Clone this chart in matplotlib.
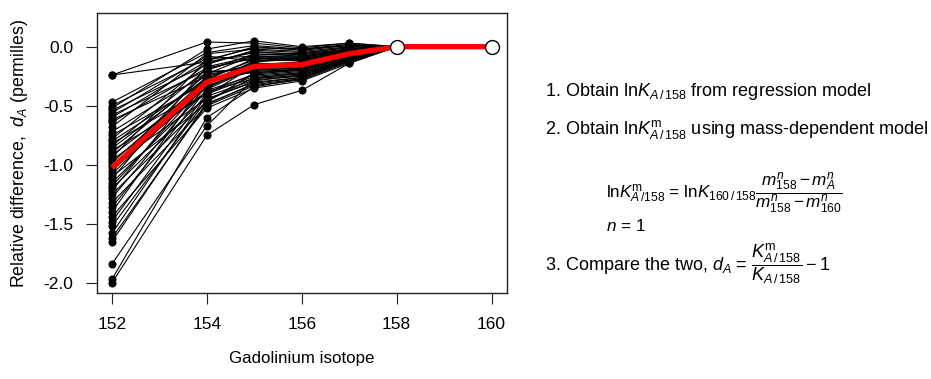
import numpy as np
import matplotlib
matplotlib.use("Agg")
import matplotlib.pyplot as plt

plt.rcParams['font.family'] = ['Liberation Sans', 'DejaVu Sans']
plt.rcParams['mathtext.fontset'] = 'custom'
plt.rcParams['mathtext.rm'] = 'Liberation Sans'
plt.rcParams['mathtext.it'] = 'Liberation Sans:italic'
plt.rcParams['mathtext.bf'] = 'Liberation Sans:bold'

# Isotopes
isotopes = [152, 154, 155, 156, 157, 158]
ref_isotopes = [158, 160]
ref_values = [0.0, 0.0]

# Relative difference d_A (permilles) per sample at each isotope
d152 = [-0.24, -0.24, -0.47, -0.50, -0.52, -0.54, -0.56, -0.58, -0.60, -0.62,
        -0.64, -0.68, -0.72, -0.75, -0.78, -0.80, -0.82, -0.84, -0.86, -0.88,
        -0.90, -0.92, -0.94, -0.96, -0.98, -1.00, -1.02, -1.05, -1.08, -1.10,
        -1.12, -1.15, -1.18, -1.20, -1.22, -1.25, -1.28, -1.32, -1.36, -1.40,
        -1.44, -1.48, -1.52, -1.58, -1.62, -1.65, -1.84, -1.97, -2.00]
d154 = [0.04, -0.13, -0.05, -0.10, -0.02, -0.15, -0.08, -0.20, -0.12, -0.25,
        -0.18, -0.06, -0.22, -0.30, -0.14, -0.28, -0.35, -0.19, -0.26, -0.40,
        -0.23, -0.32, -0.11, -0.38, -0.27, -0.44, -0.21, -0.34, -0.29, -0.48,
        -0.17, -0.37, -0.31, -0.42, -0.24, -0.46, -0.33, -0.50, -0.36, -0.28,
        -0.52, -0.39, -0.45, -0.41, -0.49, -0.47, -0.67, -0.60, -0.75]
d155 = [0.03, -0.05, 0.01, -0.08, 0.05, -0.03, -0.12, -0.06, 0.00, -0.15,
        -0.10, -0.02, -0.18, -0.13, -0.04, -0.20, -0.16, -0.09, -0.22, -0.25,
        -0.07, -0.14, -0.01, -0.27, -0.11, -0.30, -0.19, -0.17, -0.21, -0.32,
        -0.08, -0.24, -0.12, -0.28, -0.15, -0.26, -0.20, -0.33, -0.18, -0.10,
        -0.35, -0.23, -0.29, -0.16, -0.31, -0.22, -0.27, -0.34, -0.49]
d156 = [-0.01, -0.06, -0.02, -0.09, 0.00, -0.05, -0.11, -0.08, -0.03, -0.14,
        -0.12, -0.04, -0.16, -0.10, -0.07, -0.18, -0.13, -0.09, -0.20, -0.22,
        -0.06, -0.15, -0.02, -0.24, -0.12, -0.26, -0.17, -0.14, -0.19, -0.27,
        -0.08, -0.21, -0.11, -0.25, -0.13, -0.23, -0.18, -0.28, -0.16, -0.10,
        -0.29, -0.20, -0.24, -0.15, -0.26, -0.19, -0.22, -0.27, -0.37]
d157 = [0.03, 0.00, 0.02, -0.03, 0.03, -0.01, -0.05, -0.02, 0.01, -0.06,
        -0.04, 0.00, -0.07, -0.04, -0.02, -0.08, -0.06, -0.03, -0.09, -0.10,
        -0.02, -0.06, 0.01, -0.10, -0.05, -0.11, -0.07, -0.05, -0.08, -0.12,
        -0.03, -0.09, -0.04, -0.11, -0.05, -0.10, -0.07, -0.13, -0.06, -0.04,
        -0.14, -0.08, -0.11, -0.06, -0.12, -0.09, -0.10, -0.12, -0.14]
d158 = [0.0] * len(d152)

x_ticks = [152, 154, 156, 158, 160]
y_ticks = [0.0, -0.5, -1.0, -1.5, -2.0]
y_tick_labels = ["0.0", "-0.5", "-1.0", "-1.5", "-2.0"]

data = np.array([d152, d154, d155, d156, d157, d158])  # shape (6, n)

fig = plt.figure(figsize=(9.31, 3.79), dpi=100)
ax = fig.add_axes([0.1039, 0.2261, 0.4404, 0.7404])

for j in range(data.shape[1]):
    ax.plot(isotopes, data[:, j], '-o', color='black', lw=0.8, ms=4.8, zorder=2)

mean_vals = list(data.mean(axis=1))
red_x = isotopes + ref_isotopes[1:]
red_y = mean_vals + ref_values[1:]
ax.plot(red_x, red_y, color='#ff0000', lw=3.8, solid_capstyle='butt', zorder=3)
ax.plot(ref_isotopes, ref_values, 'o', ms=10, mfc='white', mec='black', mew=1.0, zorder=4)

ax.set_xlim(151.68, 160.32)
ax.set_ylim(-2.088, 0.288)
ax.set_xticks(x_ticks)
ax.set_xticklabels([str(t) for t in x_ticks], fontsize=12.5)
ax.set_yticks(y_ticks)
ax.set_yticklabels(y_tick_labels, fontsize=12.5)
ax.tick_params(direction='out', length=8, width=0.8, pad=9, color='#222222')
for s in ax.spines.values():
    s.set_linewidth(1.0)
    s.set_color('#222222')

ax.set_xlabel("Gadolinium isotope", fontsize=12.2, labelpad=14)
ax.set_ylabel(r"Relative difference,  $d_A$ (permilles)", fontsize=12.8, labelpad=9)

fs = 13
fig.text(545/931, 1-92/379, r"1. Obtain ln$K_{A\,/\,158}$ from regression model",
         fontsize=fs, va='center', ha='left')
fig.text(545/931, 1-130/379, r"2. Obtain ln$K^{\mathrm{m}}_{A\,/\,158}$ using mass-dependent model",
         fontsize=fs, va='center', ha='left')
fig.text(606/931, 1-193/379,
         r"ln$K^{\mathrm{m}}_{A\,/158}$ = ln$K_{160\,/\,158}\dfrac{m^n_{158} - m^n_A}{m^n_{158} - m^n_{160}}$",
         fontsize=12.3, va='center', ha='left')
fig.text(606/931, 1-226/379, r"$n$ = 1", fontsize=12.3, va='center', ha='left')
fig.text(545/931, 1-264/379,
         r"3. Compare the two, $d_A$ = $\dfrac{K^{\mathrm{m}}_{A\,/\,158}}{K_{A\,/\,158}} - 1$",
         fontsize=fs, va='center', ha='left')

fig.savefig("out.png", dpi=100)
